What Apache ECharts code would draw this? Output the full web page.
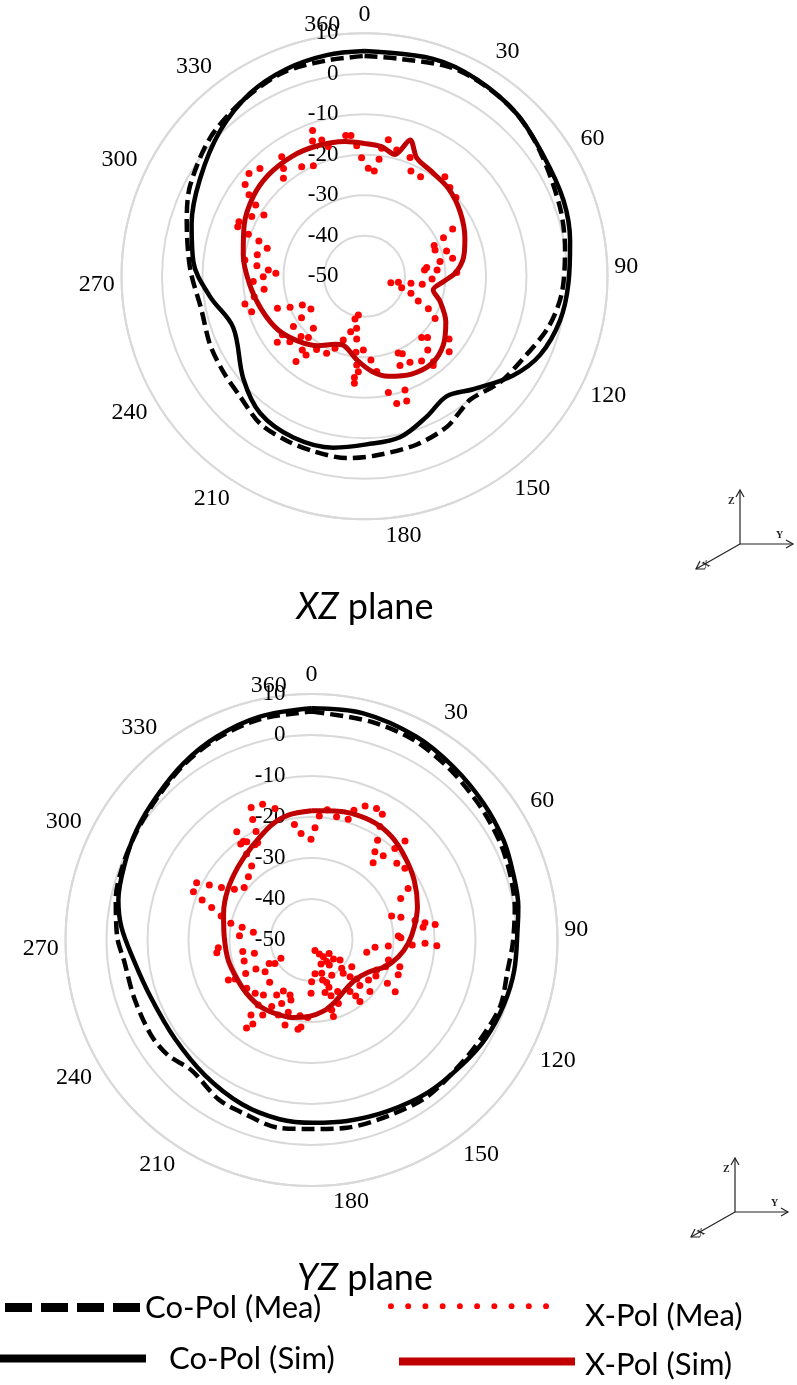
<!DOCTYPE html>
<html><head><meta charset="utf-8">
<script src="https://cdn.jsdelivr.net/npm/echarts@6/dist/echarts.min.js"></script>
<style>html,body{margin:0;padding:0;background:#fff}#c{width:797px;height:1385px}</style>
</head><body><div id="c"></div>
<script>
// ---------------- data (angle in degrees, level in dB) ----------------
const radialMin = -50, radialMax = 10, radialStep = 10;
const angleTickLabels = ['0','30','60','90','120','150','180','210','240','270','300','330'];
const seriesNames = ['Co-Pol (Mea)', 'Co-Pol (Sim)', 'X-Pol (Mea)', 'X-Pol (Sim)'];
const planeTitles = ['XZ', 'YZ'];

// XZ plane
const xzCoSim = [[0,5.6],[17.5,6.3],[29.7,6.0],[43.1,5.0],[55.9,3.3],[69,2.6],[80.3,1.5],[91.7,0.4],[102.7,-0.5],[114.1,-2.5],[123.7,-5.9],[136.1,-11.3],[145.5,-14.1],[156.1,-12.1],[167.6,-9.3],[179.3,-8.5],[190.3,-7.0],[203.8,-6.5],[217.3,-7.5],[229.7,-10.8],[248.8,-15.2],[262.6,-11.5],[274.8,-7.6],[286.8,-5.4],[300.6,-2.8],[315.2,0.6],[328,3.3],[339.4,4.7],[350.3,5.4],[360,5.6]];
const xzCoMea = [[0,4.4],[9.3,4.4],[22.2,5.8],[31.8,5.7],[43,5.0],[54.6,3.2],[70.4,1.2],[82,0.0],[94.8,-1.1],[105.5,-2.9],[118,-6.0],[128,-7.5],[139.4,-9.9],[144.8,-9.1],[151.4,-7.6],[162.7,-6.5],[176.1,-5.7],[185.6,-4.9],[196.3,-5.0],[205.3,-5.1],[215.3,-5.4],[226.1,-7.3],[235.9,-7.9],[246.2,-8.3],[258.3,-8.9],[272.5,-6.9],[287.4,-4.0],[297.3,-1.5],[311.9,1.2],[325.5,2.8],[338.3,4.2],[350,4.1],[360,4.4]];
const xzXSim = [[0,-17.2],[7.5,-17.7],[14,-19.0],[18.5,-14.5],[23.9,-18.1],[32.7,-19.3],[43.6,-20.0],[55.9,-21.5],[69.3,-23.5],[79.7,-25.2],[88,-27.6],[93.9,-30.5],[101.2,-32.7],[108.5,-30.3],[119.2,-27.0],[131,-24.2],[142.3,-22.8],[154.3,-23.2],[166.6,-24.6],[175.7,-26.5],[185.3,-29.3],[197,-32.2],[203.5,-31.7],[213.7,-29.4],[225.7,-27.1],[238.1,-24.9],[251.9,-23.3],[265.7,-21.6],[280,-19.6],[293.1,-17.7],[305.6,-16.2],[316.5,-15.5],[328.7,-15.4],[339.1,-15.7],[351.8,-16.4],[360,-17.2]];
const xzXMea = [[340.4,-11.8],[339,-14.2],[342.6,-14.7],[344.4,-16.7],[352.4,-14.9],[354.5,-15.1],[356.6,-17.7],[9.9,-15.8],[14.3,-17.8],[7.6,-18.1],[21,-18.6],[358.6,-20.7],[2,-23.3],[5.3,-23.9],[7.1,-20.9],[23.8,-21.6],[29.4,-21.8],[38.9,-18.4],[43.9,-19.6],[49.3,-20.2],[61.8,-25.3],[64,-28.3],[66.2,-31.2],[69.5,-31.4],[72.9,-28.8],[78.5,-27.8],[79,-31.0],[85,-32.0],[82,-34.5],[84,-35.1],[87.7,-27.2],[92.3,-33.3],[97.9,-35.6],[98.6,-38.4],[110,-37.8],[107,-40.4],[100,-41.5],[103.6,-43.3],[114.6,-35.4],[117,-32.3],[120.8,-29.7],[137,-29.3],[134.2,-28.3],[126.6,-24.0],[139.4,-26.0],[131.7,-22.0],[156.3,-29.3],[154,-28.7],[146,-24.8],[141.1,-22.9],[142.4,-22.2],[152.1,-26.0],[158.3,-26.3],[172.7,-26.3],[168.4,-20.7],[160.4,-20.2],[165.8,-17.6],[161.3,-17.5],[185.7,-24.9],[185.4,-23.5],[183.7,-26.4],[185,-28.0],[186.4,-31.1],[180.9,-31.8],[175.6,-29.3],[198.4,-33.4],[194,-35.9],[188.6,-37.0],[192.6,-39.2],[189,-40.3],[187.1,-34.4],[202.3,-30.8],[206.2,-28.8],[213.2,-28.4],[216.6,-25.8],[218.8,-23.0],[220.2,-26.2],[228.8,-25.5],[232.9,-23.0],[234.5,-25.1],[234.7,-28.5],[226.5,-28.4],[222.5,-29.5],[224.5,-32.0],[236.7,-31.4],[245.2,-33.1],[238.6,-34.5],[247.4,-30.1],[249.8,-27.1],[252.6,-20.8],[257,-19.7],[259.5,-22.3],[262.6,-25.0],[269.8,-25.0],[273.8,-26.2],[271.9,-28.1],[275.6,-23.3],[281.3,-23.0],[286.1,-25.0],[288.5,-22.5],[289.9,-19.5],[277.8,-20.2],[267.3,-22.5],[293.5,-16.2],[291.3,-16.4],[297.9,-18.5],[301.4,-20.9],[303.2,-17.9],[305.2,-15.1],[307.6,-12.8],[311.7,-11.8],[315.9,-12.9],[325.3,-14.1],[323.1,-16.7],[320.4,-18.6],[330.2,-18.8],[335.2,-19.9]];

// YZ plane
const yzCoSim = [[0,6.5],[12.9,6.7],[27.3,5.8],[39.3,4.6],[51.5,3.6],[62.5,2.8],[71.7,1.8],[80.8,1.1],[86.3,0.4],[98.6,0.0],[108.5,-0.5],[119.5,-1.2],[129.8,-2.3],[142.6,-3.2],[156,-4.3],[168.9,-5.0],[179.5,-5.4],[190.1,-5.6],[202.9,-6.5],[218.2,-8.0],[234.3,-8.9],[250.2,-8.4],[263.4,-6.4],[274,-3.5],[281.7,-1.9],[292.3,-0.8],[302.2,0.4],[312.8,1.5],[324,3.2],[335,4.7],[347,5.9],[360,6.5]];
const yzCoMea = [[0,5.7],[15,5.2],[27,4.8],[39,3.6],[51.5,2.5],[62.5,1.8],[72,1.0],[81,0.2],[90.9,-0.9],[98.9,-1.6],[108.8,-1.2],[117.8,-2.0],[127.6,-2.6],[143.2,-2.5],[156.6,-3.2],[169.3,-3.4],[179.5,-3.9],[189.7,-3.5],[201.9,-4.6],[210.3,-5.0],[222.6,-6.8],[231.3,-5.1],[239.4,-4.5],[251.9,-4.5],[263.7,-4.0],[270.9,-2.6],[282,-1.2],[292,-0.5],[302,0.2],[313,1.2],[324,2.9],[335,4.3],[347,5.3],[360,5.7]];
const yzXSim = [[0,-18.5],[4.5,-18.4],[10.3,-18.0],[17.6,-17.6],[28.4,-17.5],[37.8,-18.1],[48.3,-19.5],[59.7,-21.0],[72.5,-22.9],[82.6,-24.7],[92,-26.4],[100.9,-28.4],[110,-30.9],[119.6,-34.1],[132.6,-35.6],[146.2,-35.3],[159.1,-33.9],[170.5,-32.4],[182.4,-31.3],[194.4,-30.5],[206.5,-30.0],[217.7,-29.5],[230.6,-29.5],[242.9,-29.5],[256.5,-29.1],[272.2,-28.7],[286.8,-27.6],[300.8,-26.2],[315,-24.7],[327.3,-23.0],[340.9,-20.3],[349.5,-19.0],[360,-18.5]];
const yzXMea = [[335.5,-14.5],[340.2,-14.8],[344.5,-16.7],[334,-17.3],[325.4,-17.9],[332.9,-20.3],[325.3,-20.8],[326.6,-21.3],[323.6,-20.9],[329.3,-23.0],[331,-22.9],[323,-23.7],[321,-26.8],[315.1,-28.2],[307.9,-29.2],[303.3,-27.5],[300.2,-24.6],[298.3,-21.7],[296.5,-18.7],[292.2,-18.9],[290.1,-21.6],[288,-24.4],[284.9,-27.2],[281.7,-29.9],[280.4,-32.8],[277.5,-35.7],[273.4,-32.4],[265.3,-27.2],[262.4,-26.7],[260.4,-33.0],[256.9,-35.7],[252.7,-32.8],[241,-38.2],[237.4,-39.4],[239,-41.3],[244.3,-27.5],[243,-29.1],[243.1,-32.0],[242.4,-34.7],[235.7,-36.3],[224.7,-35.5],[233.3,-30.3],[226.6,-31.1],[221.2,-32.2],[212.3,-34.1],[208.9,-35.8],[201.3,-35.6],[198.9,-34.5],[205.2,-32.9],[210.9,-31.1],[219.3,-29.5],[218.9,-26.5],[213.1,-28.2],[203.9,-30.0],[197.8,-31.5],[188.6,-31.3],[182.8,-31.1],[180.5,-37.0],[179.8,-39.8],[174.1,-41.7],[163,-41.5],[160.3,-39.0],[159.7,-37.7],[160.7,-35.6],[153.1,-35.9],[157,-33.2],[163.9,-32.2],[161.8,-47.3],[150.8,-46.1],[144.6,-45.0],[127.3,-44.6],[131,-42.9],[125,-41.5],[133.2,-39.9],[123.6,-38.2],[133.6,-37.0],[130.8,-35.4],[133.3,-33.8],[141.8,-30.9],[141.7,-32.6],[143.3,-34.3],[131.4,-31.0],[125.1,-33.0],[119.2,-32.0],[114.7,-32.5],[109.8,-30.8],[119.7,-28.7],[121.7,-26.0],[111.9,-27.2],[106.8,-27.5],[94.5,-31.2],[87.4,-28.8],[88.5,-28.2],[73.3,-29.6],[75.8,-27.5],[65,-26.0],[61.9,-23.3],[52.5,-21.3],[48,-22.0],[42.3,-19.8],[43.4,-16.8],[33.5,-20.8],[35.7,-23.5],[38.6,-25.9],[40.4,-23.0],[31.1,-17.7],[29.4,-14.8],[26.3,-14.2],[21.8,-14.8],[18.1,-16.7],[16.9,-19.2],[11.5,-19.3],[6.9,-18.0],[3.6,-19.7],[1.8,-22.6],[354.4,-23.9],[359.7,-25.4],[351.6,-21.5],[79.4,-24.3],[83.5,-22.6],[81.3,-22.0],[82.9,-19.6],[92.6,-19.4],[91.7,-22.3],[92.8,-25.4],[96.6,-34.4],[102.6,-36.2],[144.5,-42.5],[136.3,-38.8],[150,-40.1],[164.4,-39.9],[165.5,-36.8],[158.4,-43.7],[145,-43.6],[104.6,-30.6],[216.4,-23.3],[214.9,-25.0],[197.3,-28.3],[188.6,-28.0],[186.9,-28.6],[164,-30.6],[165,-32.7]];

// ---------------- layout & style ----------------
const polarGeo = [
  {center: [364.5, 276.3], radius: 243},
  {center: [311.5, 940], radius: 246}
];
// where the source figure prints each angle tick label (degrees, clockwise from top)
const angleLabelAngles = [0, 31.6, 59.8, 87.7, 115.5, 143.2, 171, 212.6, 240.2, 268, 294.8, 322.4];
const serif = 'Liberation Serif';
const sans = 'Lato';
const gridGray = '#d9d9d9';
const darkRed = '#c00000';
const dotRed = '#ff0000';

const toPolar = arr => arr.map(p => [p[1], p[0]]);
const labelFor = v => {
  let best = 0;
  angleLabelAngles.forEach((a, k) => { if (Math.abs(a - v) < Math.abs(angleLabelAngles[best] - v)) best = k; });
  return angleTickLabels[best];
};

const polar = [], angleAxis = [], radiusAxis = [], series = [];
polarGeo.forEach((g, i) => {
  polar.push({center: g.center, radius: [0, g.radius]});
  angleAxis.push({
    polarIndex: i, type: 'value', min: 0, max: 360, interval: 30,
    startAngle: 90, clockwise: true,
    axisLine: {lineStyle: {color: gridGray, width: 2}},
    axisTick: {show: false}, splitLine: {show: false},
    axisLabel: {margin: 7, color: '#000', fontFamily: serif, fontSize: 24,
      customValues: angleLabelAngles, formatter: labelFor}
  });
  radiusAxis.push({
    polarIndex: i, type: 'value', min: radialMin, max: radialMax, interval: radialStep,
    axisLine: {show: false}, axisTick: {show: false},
    splitLine: {lineStyle: {color: gridGray, width: 2}},
    axisLabel: {margin: 26, color: '#000', fontFamily: serif, fontSize: 23},
    z: 1
  });
});
// second polar per plane carrying the extra "360" label
polarGeo.forEach((g, i) => {
  polar.push({center: g.center, radius: [0, g.radius]});
  angleAxis.push({
    polarIndex: 2 + i, type: 'value', min: 0, max: 360, interval: 360,
    startAngle: 100, clockwise: true,
    axisLine: {show: false}, axisTick: {show: false}, splitLine: {show: false},
    axisLabel: {margin: 0, color: '#000', fontFamily: serif, fontSize: 24, formatter: () => '360'}
  });
  radiusAxis.push({polarIndex: 2 + i, type: 'value', min: radialMin, max: radialMax, show: false});
});

const planes = [
  {coMea: xzCoMea, coSim: xzCoSim, xMea: xzXMea, xSim: xzXSim},
  {coMea: yzCoMea, coSim: yzCoSim, xMea: yzXMea, xSim: yzXSim}
];
planes.forEach((p, i) => {
  series.push({
    name: seriesNames[0], type: 'line', coordinateSystem: 'polar', polarIndex: i,
    data: toPolar(p.coMea), showSymbol: false, smooth: 0.3, color: '#000',
    lineStyle: {color: '#000', width: 4.5, type: [13, 6]}, z: 3
  });
  series.push({
    name: seriesNames[1], type: 'line', coordinateSystem: 'polar', polarIndex: i,
    data: toPolar(p.coSim), showSymbol: false, smooth: 0.35, color: '#000',
    lineStyle: {color: '#000', width: 4.5}, z: 3
  });
  series.push({
    name: seriesNames[2], type: 'scatter', coordinateSystem: 'polar', polarIndex: i,
    data: toPolar(p.xMea), symbolSize: 7, color: dotRed,
    itemStyle: {color: dotRed, opacity: 1}, z: 4
  });
  series.push({
    name: seriesNames[3], type: 'line', coordinateSystem: 'polar', polarIndex: i,
    data: toPolar(p.xSim), showSymbol: false, smooth: 0.3, color: darkRed,
    lineStyle: {color: darkRed, width: 5}, z: 5
  });
});

// legend swatches; a tiny invisible segment widens a swatch's box so its text sits lower
const dashIcon = 'path://M0,0h27v9h-27zM36,0h27v9h-27zM72,0h27v9h-27zM108,0h27v9h-27z';
let dots = '';
for (let k = 0; k < 10; k++) { const x = 3 + k * 17.5; dots += `M${x - 3},3a3,3 0 1,0 6,0a3,3 0 1,0 -6,0z`; }
const dotIcon = 'path://' + dots + 'M0,25L0.01,25';
const redBarIcon = 'path://M0,0h176v8h-176zM0,14L0.01,14';
const legText = {fontFamily: sans, fontSize: 31, color: '#000'};
const legend = [
  {name: seriesNames[0], icon: dashIcon, left: 5, top: 1292, w: 135, h: 9, pad: [0, 0, 0, 0]},
  {name: seriesNames[1], icon: 'rect', left: 0, top: 1343, w: 146, h: 8, pad: [0, 0, 0, 18]},
  {name: seriesNames[2], icon: dotIcon, left: 388, top: 1300, w: 161, h: 25, pad: [0, 0, 0, 31]},
  {name: seriesNames[3], icon: redBarIcon, left: 399, top: 1349, w: 176, h: 14, pad: [0, 0, 0, 5]}
].map(l => ({
  data: [{name: l.name, icon: l.icon}], left: l.left, top: l.top, padding: 0,
  itemWidth: l.w, itemHeight: l.h, selectedMode: false,
  textStyle: Object.assign({padding: l.pad}, legText)
}));

function axesIcon(ox, oy) {
  const s = {stroke: '#222', lineWidth: 1.2, fill: null};
  return [
    {type: 'line', shape: {x1: ox, y1: oy, x2: ox, y2: oy - 54}, style: s},
    {type: 'polyline', shape: {points: [[ox - 4, oy - 47], [ox, oy - 54], [ox + 4, oy - 47]]}, style: s},
    {type: 'line', shape: {x1: ox, y1: oy, x2: ox + 53, y2: oy}, style: s},
    {type: 'polyline', shape: {points: [[ox + 46, oy - 4], [ox + 53, oy], [ox + 46, oy + 4]]}, style: s},
    {type: 'line', shape: {x1: ox, y1: oy, x2: ox - 44, y2: oy + 25}, style: s},
    {type: 'polyline', shape: {points: [[ox - 35, oy + 25], [ox - 44, oy + 25], [ox - 40, oy + 17]]}, style: s},
    {type: 'text', style: {text: 'Z', x: ox - 12, y: oy - 48, font: 'bold 10px "Liberation Serif"', fill: '#222'}},
    {type: 'text', style: {text: 'Y', x: ox + 36, y: oy - 14, font: 'bold 10px "Liberation Serif"', fill: '#222'}},
    {type: 'text', style: {text: 'X', x: ox - 38, y: oy + 16, font: 'bold 10px "Liberation Serif"', fill: '#222'}, rotation: 0.5, originX: ox - 34, originY: oy + 20}
  ];
}
function titleText(name, x, y) {
  return {type: 'text', style: {
    text: `{i|${name}} plane`, x: x, y: y, align: 'center', verticalAlign: 'middle',
    font: `36px ${sans}`, fill: '#000',
    rich: {i: {fontStyle: 'italic', fontFamily: sans, fontSize: 36, fill: '#000'}}
  }};
}

const graphic = [].concat(
  axesIcon(740, 544), axesIcon(735, 1212),
  [titleText(planeTitles[0], 365, 607), titleText(planeTitles[1], 365, 1278)]
);

const chart = echarts.init(document.getElementById('c'));
chart.setOption({
  animation: false, backgroundColor: '#fff',
  polar, angleAxis, radiusAxis, series, legend, graphic
});
</script></body></html>
